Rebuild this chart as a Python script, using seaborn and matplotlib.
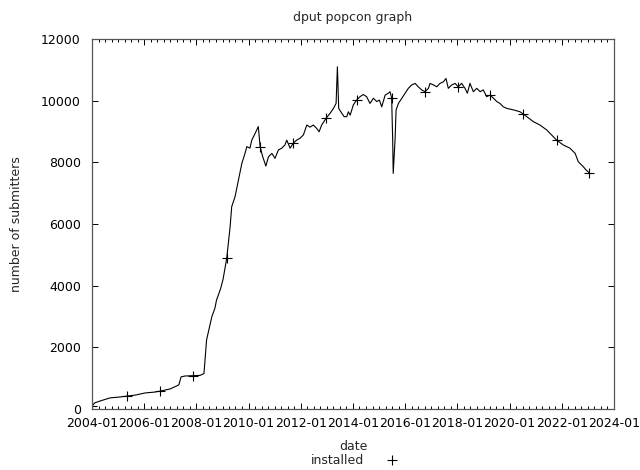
import numpy as np
import pandas as pd
import matplotlib
matplotlib.use("Agg")
import matplotlib.pyplot as plt
import matplotlib.dates as mdates
import matplotlib.ticker as mticker
from matplotlib.lines import Line2D
import seaborn as sns

# decimal year of each reading, and number of submitters
years = [2004.00, 2004.11, 2004.31, 2004.69, 2005.07, 2005.34, 2005.65, 2006.03, 2006.41, 2006.61,
         2006.99, 2007.30, 2007.33, 2007.41, 2007.56, 2007.87, 2008.14, 2008.29, 2008.39, 2008.59,
         2008.71, 2008.77, 2008.93, 2009.02, 2009.16, 2009.29, 2009.35, 2009.48, 2009.61, 2009.74,
         2009.86, 2009.93, 2010.05, 2010.12, 2010.25, 2010.37, 2010.44, 2010.54, 2010.66, 2010.76,
         2010.89, 2011.01, 2011.14, 2011.27, 2011.39, 2011.46, 2011.59, 2011.71, 2011.84, 2011.97,
         2012.10, 2012.23, 2012.35, 2012.48, 2012.61, 2012.70, 2012.80, 2012.97, 2013.12, 2013.25,
         2013.35, 2013.40, 2013.45, 2013.57, 2013.66, 2013.76, 2013.82, 2013.89, 2014.01, 2014.14,
         2014.27, 2014.39, 2014.52, 2014.65, 2014.78, 2014.91, 2015.01, 2015.10, 2015.23, 2015.35,
         2015.42, 2015.48, 2015.52, 2015.54, 2015.61, 2015.65, 2015.74, 2015.87, 2015.99, 2016.12,
         2016.25, 2016.38, 2016.50, 2016.63, 2016.76, 2016.89, 2016.95, 2017.08, 2017.21, 2017.33,
         2017.46, 2017.56, 2017.65, 2017.78, 2017.91, 2018.03, 2018.16, 2018.29, 2018.38, 2018.48,
         2018.61, 2018.74, 2018.87, 2018.99, 2019.12, 2019.25, 2019.38, 2019.51, 2019.63, 2019.76,
         2019.89, 2020.15, 2020.40, 2020.53, 2020.66, 2020.91, 2021.16, 2021.42, 2021.67, 2021.80,
         2022.06, 2022.31, 2022.51, 2022.63, 2022.82, 2022.93, 2023.05]
submitters = [100, 200, 260, 360, 390, 420, 450, 520, 550, 580,
              650, 770, 790, 1040, 1070, 1080, 1090, 1150, 2240, 2990,
              3270, 3530, 3910, 4210, 4890, 5910, 6560, 6890, 7430, 7970,
              8290, 8510, 8460, 8720, 8940, 9160, 8510, 8180, 7880, 8180,
              8290, 8130, 8400, 8460, 8560, 8720, 8460, 8620, 8720, 8780,
              8890, 9210, 9140, 9210, 9100, 8990, 9210, 9430, 9590, 9750,
              9910, 11100, 9750, 9590, 9480, 9480, 9640, 9530, 9860, 10020,
              10130, 10200, 10130, 9910, 10080, 9970, 10020, 9800, 10180, 10240,
              10290, 10080, 8720, 7640, 8720, 9700, 9910, 10080, 10240, 10400,
              10510, 10560, 10450, 10350, 10290, 10400, 10560, 10510, 10450, 10560,
              10610, 10720, 10400, 10510, 10560, 10450, 10560, 10400, 10240, 10560,
              10290, 10400, 10290, 10350, 10130, 10180, 10080, 9970, 9910, 9800,
              9750, 9700, 9640, 9560, 9480, 9320, 9210, 9050, 8830, 8720,
              8560, 8460, 8290, 8020, 7860, 7750, 7660]
# where the "+" point symbols sit along the line
marker_years = [2004.04, 2005.34, 2006.61, 2007.87, 2009.16, 2010.44, 2011.71, 2012.97,
                2014.20, 2015.48, 2016.76, 2018.03, 2019.25, 2020.53, 2021.80, 2023.05]

y_ticks = [0, 2000, 4000, 6000, 8000, 10000, 12000]
x_major = pd.date_range("2004-01-01", "2024-01-01", freq="2YS")
x_minor = pd.date_range("2004-01-01", "2024-01-01", freq="QS")


def dec_to_date(y):
    yr = int(np.floor(y))
    frac = y - yr
    start = pd.Timestamp(year=yr, month=1, day=1)
    return start + pd.Timedelta(days=frac * 365.25)


df = pd.DataFrame({"date": [dec_to_date(y) for y in years], "installed": submitters})
yrs = np.array(years)
mark_idx = sorted({int(np.argmin(np.abs(yrs - m))) for m in marker_years})

sns.set_theme(style="ticks")
plt.rcParams['font.family'] = ['DejaVu Sans']

fig = plt.figure(figsize=(6.4, 4.7), dpi=100)
ax = fig.add_axes([92 / 640, 1 - 409 / 470, 522 / 640, 370 / 470])

sns.lineplot(data=df, x="date", y="installed", ax=ax, color="black", lw=0.8,
             marker="+", markevery=mark_idx, markersize=6.5, markeredgewidth=0.8,
             markeredgecolor="black", markerfacecolor="black",
             estimator=None, sort=False, legend=False)

ax.set_xlim(mdates.date2num(x_major[0]), mdates.date2num(x_major[-1]))
ax.set_ylim(0, 12000)
ax.set_yticks(y_ticks)
ax.xaxis.set_major_locator(mticker.FixedLocator(mdates.date2num(x_major)))
ax.xaxis.set_major_formatter(mdates.DateFormatter("%Y-%m"))
ax.xaxis.set_minor_locator(mticker.FixedLocator(mdates.date2num(x_minor)))
ax.xaxis.set_minor_formatter(mticker.NullFormatter())

ax.tick_params(axis="both", which="major", direction="in", length=4.5, width=0.7,
               labelsize=9, color="black", labelcolor="black", top=True, right=True)
ax.tick_params(axis="x", which="major", pad=6)
ax.tick_params(axis="y", which="major", pad=8)
ax.tick_params(axis="x", which="minor", direction="in", length=2.5, width=0.7,
               color="black", top=True, bottom=True)
for s in ax.spines.values():
    s.set_visible(True)
    s.set_color("#555555")
    s.set_linewidth(0.9)

ax.set_title("dput popcon graph", fontsize=9, pad=13)
ax.set_xlabel("date", fontsize=9)
ax.set_ylabel("number of submitters", fontsize=9)
ax.xaxis.set_label_coords(0.5, -0.083)
ax.yaxis.set_label_coords(-0.133, 0.5)

handle = Line2D([], [], color="black", marker="+", linestyle="None",
                markersize=6.5, markeredgewidth=0.8)
fig.legend(handles=[handle], labels=["installed"], loc="center",
           bbox_to_anchor=(358 / 640, 1 - 461 / 470), frameon=False,
           markerfirst=False, fontsize=9, handletextpad=1.2, borderpad=0)

fig.savefig("out.png", dpi=100)
